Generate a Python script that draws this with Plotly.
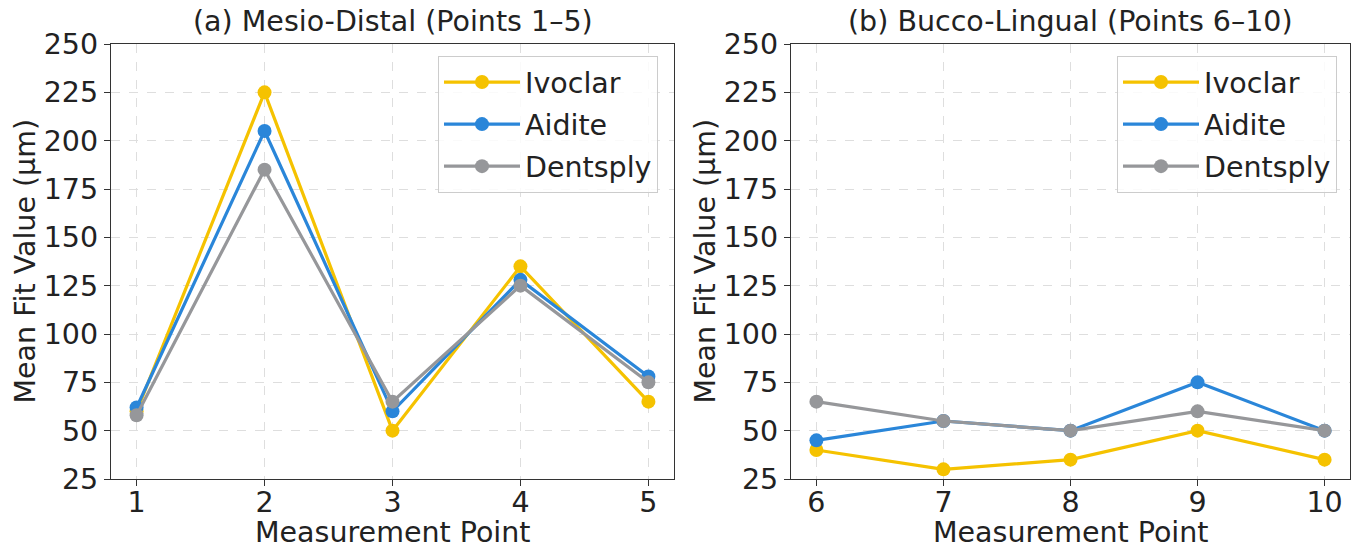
import plotly.graph_objects as go

points_md = [1, 2, 3, 4, 5]
points_bl = [6, 7, 8, 9, 10]
series_names = ["Ivoclar", "Aidite", "Dentsply"]
md_ivoclar = [60, 225, 50, 135, 65]
md_aidite = [62, 205, 60, 128, 78]
md_dentsply = [58, 185, 65, 125, 75]
bl_ivoclar = [40, 30, 35, 50, 35]
bl_aidite = [45, 55, 50, 75, 50]
bl_dentsply = [65, 55, 50, 60, 50]
y_ticks = [25, 50, 75, 100, 125, 150, 175, 200, 225, 250]

colors = ["#F5C200", "#2A86D9", "#96979A"]
W, H = 1357, 551
FONT = "DejaVu Sans"
FS = 28.5

def px(x):
    return x / W

def py(y):
    return (H - y) / H

fig = go.Figure()
md = [md_ivoclar, md_aidite, md_dentsply]
bl = [bl_ivoclar, bl_aidite, bl_dentsply]
for i, name in enumerate(series_names):
    fig.add_trace(go.Scatter(x=points_md, y=md[i], name=name, mode="lines+markers",
                             line=dict(color=colors[i], width=3.2),
                             marker=dict(size=14, color=colors[i]),
                             xaxis="x", yaxis="y", legend="legend", legendgroup="a" + name))
for i, name in enumerate(series_names):
    fig.add_trace(go.Scatter(x=points_bl, y=bl[i], name=name, mode="lines+markers",
                             line=dict(color=colors[i], width=3.2),
                             marker=dict(size=14, color=colors[i]),
                             xaxis="x2", yaxis="y2", legend="legend2", legendgroup="b" + name))

axis_common = dict(showline=True, mirror=True, linecolor="#333333", linewidth=1.3,
                   ticks="outside", ticklen=6, tickwidth=1.3, tickcolor="#333333",
                   showgrid=True, gridcolor="#dedede", griddash="dash", gridwidth=1,
                   zeroline=False, automargin=False,
                   tickfont=dict(family=FONT, size=FS, color="#222222"))

ydom = [py(479), py(44)]
legend_common = dict(font=dict(family=FONT, size=FS, color="#222222"),
                     bgcolor="rgba(255,255,255,0.85)", bordercolor="#cccccc", borderwidth=1,
                     xanchor="right", yanchor="top", tracegroupgap=2,
                     traceorder="grouped", itemwidth=76)

fig.update_layout(
    width=W, height=H,
    margin=dict(l=0, r=0, t=0, b=0, autoexpand=False),
    paper_bgcolor="white", plot_bgcolor="white",
    font=dict(family=FONT, size=FS, color="#222222"),
    xaxis=dict(domain=[px(111), px(674)], range=[0.8, 5.2], tickvals=points_md,
               anchor="y", ticklabelstandoff=-8, **axis_common),
    yaxis=dict(domain=ydom, range=[25, 250], tickvals=y_ticks, anchor="x", **axis_common),
    xaxis2=dict(domain=[px(791), px(1350)], range=[5.8, 10.2], tickvals=points_bl,
                anchor="y2", ticklabelstandoff=-8, **axis_common),
    yaxis2=dict(domain=ydom, range=[25, 250], tickvals=y_ticks, anchor="x2", **axis_common),
    legend=dict(x=px(658), y=py(56), **legend_common),
    legend2=dict(x=px(1337), y=py(56), **legend_common),
    showlegend=True,
)

annots = [
    dict(text="(a) Mesio-Distal (Points 1–5)", x=px(392.5), y=py(22)),
    dict(text="(b) Bucco-Lingual (Points 6–10)", x=px(1070.5), y=py(22)),
    dict(text="Measurement Point", x=px(392.5), y=py(532)),
    dict(text="Measurement Point", x=px(1070.5), y=py(532)),
    dict(text="Mean Fit Value (µm)", x=px(25), y=py(261.5), textangle=-90),
    dict(text="Mean Fit Value (µm)", x=px(705), y=py(261.5), textangle=-90),
]
for a in annots:
    fig.add_annotation(xref="paper", yref="paper", showarrow=False,
                       xanchor="center", yanchor="middle",
                       font=dict(family=FONT, size=FS, color="#222222"), **a)

fig.write_html("out.html", config={"displayModeBar": False},
               post_script="document.body.style.margin='0';document.body.style.overflow='hidden';")
